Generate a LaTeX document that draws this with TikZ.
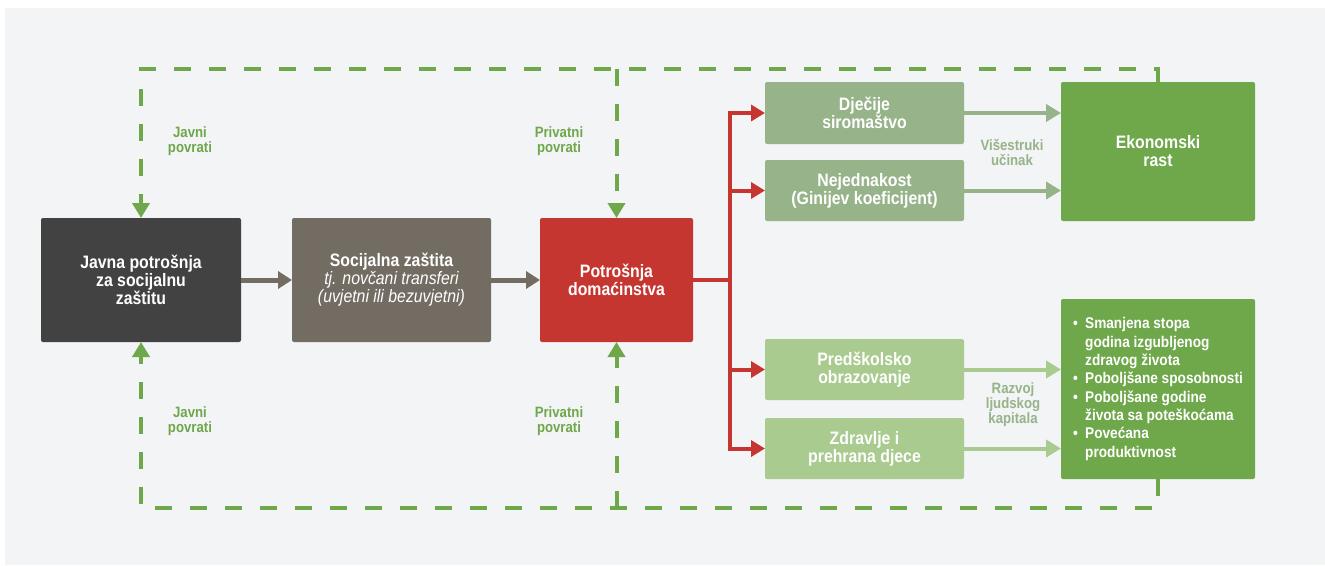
\documentclass[tikz,border=0pt]{standalone}
\usepackage{fontspec}
\setmainfont{Liberation Sans}[FakeStretch=0.88]
\usepackage{tikz}
\usetikzlibrary{arrows.meta, positioning}
\definecolor{bggray}{RGB}{243,244,246}
\definecolor{darkbox}{RGB}{66,66,66}
\definecolor{taupe}{RGB}{115,108,98}
\definecolor{hhred}{RGB}{198,54,49}
\definecolor{mutedgreen}{RGB}{151,179,137}
\definecolor{lightgreen}{RGB}{169,203,143}
\definecolor{retgreen}{RGB}{111,167,75}
\newcommand{\bul}{\makebox[12pt][l]{\textbullet}}
\newcommand{\ind}{\hspace*{12pt}}

\begin{document}
\begin{tikzpicture}[x=1pt, y=-1pt,
    box/.style={rounded corners=2pt, text=white, align=center, inner sep=0pt, outer sep=0pt,
        font=\fontsize{18}{18}\selectfont\bfseries},
    ret/.style={draw=retgreen, line width=4pt, dash pattern=on 17pt off 18pt,
        -{Triangle[length=15pt, width=17pt]}},
    retlabel/.style={text=retgreen, align=center, font=\fontsize{15}{15}\selectfont\bfseries},
    gainlabel/.style={text=mutedgreen, align=center, font=\fontsize{15}{15}\selectfont\bfseries},
    grayarrow/.style={draw=taupe, line width=5pt, -{Triangle[length=14pt, width=17pt]}},
    redarrow/.style={draw=hhred, line width=4pt, -{Triangle[length=14pt, width=16pt]}},
    greenarrow/.style={line width=4pt, -{Triangle[length=15pt, width=17pt]}}]
        \useasboundingbox (0,0) rectangle (1325,565);
        \fill[bggray] (5,8) rectangle (1325,565);

        \node[box, fill=darkbox, minimum width=200pt, minimum height=124pt] (jav) at (141,280)
            {Javna potrošnja\\za socijalnu\\zaštitu};
        \node[box, fill=taupe, minimum width=199pt, minimum height=124pt, right=51pt of jav] (soc)
            {Socijalna zaštita\\\mdseries\itshape tj. novčani transferi\\\mdseries\itshape (uvjetni ili bezuvjetni)};
        \node[box, fill=hhred, minimum width=153pt, minimum height=124pt, right=49pt of soc] (pot)
            {Potrošnja\\domaćinstva};

        \node[box, fill=mutedgreen, minimum width=199pt, minimum height=62pt] (dje) at (864.5,113)
            {Dječije\\siromaštvo};
        \node[box, fill=mutedgreen, minimum width=199pt, minimum height=61pt, below=16pt of dje] (nej)
            {Nejednakost\\(Ginijev koeficijent)};
        \node[box, fill=lightgreen, minimum width=199pt, minimum height=61pt] (pre) at (864.5,369.5)
            {Predškolsko\\obrazovanje};
        \node[box, fill=lightgreen, minimum width=199pt, minimum height=61pt, below=18pt of pre] (zdr)
            {Zdravlje i\\prehrana djece};

        \node[box, fill=retgreen, minimum width=194pt, minimum height=139pt] (eko) at (1158,151.5)
            {Ekonomski\\rast};
        \node[box, fill=retgreen, minimum width=194pt, minimum height=180pt, align=left,
            font=\fontsize{15.5}{18.3}\selectfont\bfseries] (ljk) at (1158,389)
            {\bul Smanjena stopa\\\ind godina izgubljenog\\\ind zdravog života\\
             \bul Poboljšane sposobnosti\\\bul Poboljšane godine\\\ind života sa poteškoćama\\
             \bul Povećana\\\ind produktivnost};

        \draw[grayarrow] (jav) -- (soc);
        \draw[grayarrow] (soc) -- (pot);

        \coordinate (hub) at (730,280);
        \draw[draw=hhred, line width=4pt] (pot) -- (hub);
        \draw[redarrow] (hub) |- (dje);
        \draw[redarrow] (hub) |- (nej);
        \draw[redarrow] (hub) |- (pre);
        \draw[redarrow] (hub) |- (zdr);

        \draw[greenarrow, draw=mutedgreen] (dje) -- (dje -| eko.west);
        \draw[greenarrow, draw=mutedgreen] (nej) -- (nej -| eko.west);
        \draw[greenarrow, draw=lightgreen] (pre) -- (pre -| ljk.west);
        \draw[greenarrow, draw=lightgreen] (zdr) -- (zdr -| ljk.west);
        \node[gainlabel] (vis) at (1012,152) {Višestruki\\učinak};
        \node[gainlabel] (raz) at (1013,405) {Razvoj\\ljudskog\\kapitala};

        \coordinate (top) at (0,69);
        \coordinate (bot) at (0,508);
        \draw[ret] (eko.north) -- (eko.north |- top) -| (jav.north);
        \draw[ret] (pot.north |- top) -- (pot.north);
        \draw[ret] (ljk.south) -- (ljk.south |- bot) -| (jav.south);
        \draw[ret] (pot.south |- bot) -- (pot.south);

        \node[retlabel] (jav1) at (190,141) {Javni\\povrati};
        \node[retlabel] (pri1) at (559,141) {Privatni\\povrati};
        \node[retlabel] (jav2) at (190,421) {Javni\\povrati};
        \node[retlabel] (pri2) at (559,421) {Privatni\\povrati};
    \end{tikzpicture}
\end{document}
